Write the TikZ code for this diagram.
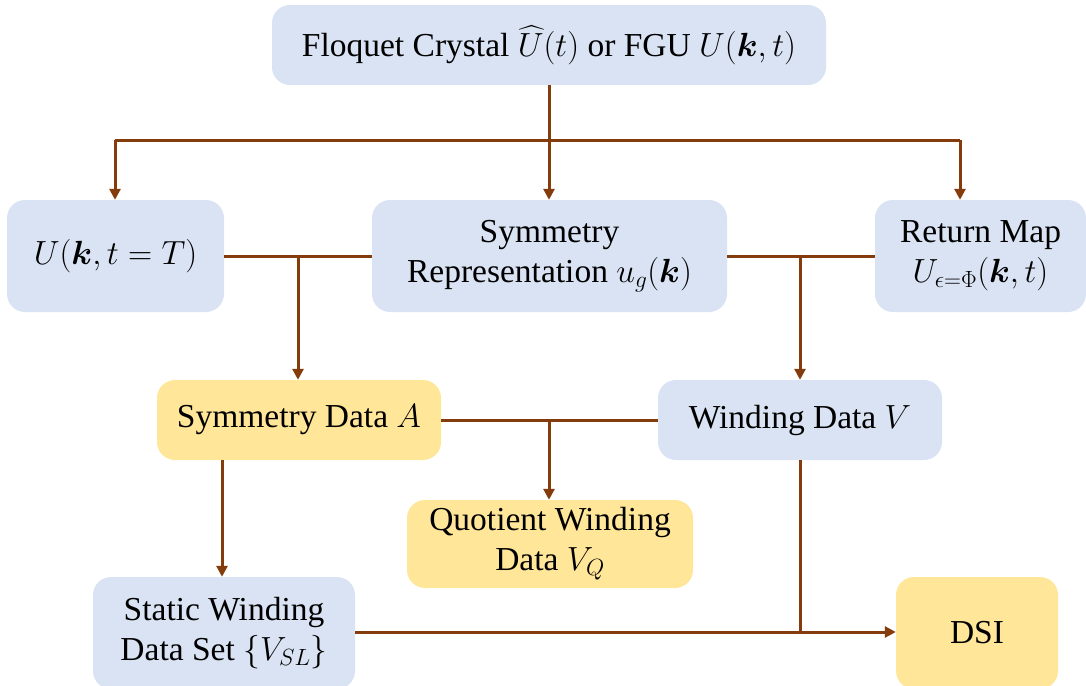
\documentclass[tikz,border=0pt]{standalone}
\usepackage{fix-cm}
\usepackage{amsmath,bm}
\usepackage{fontspec}
\setmainfont{Liberation Serif}
\newfontfamily\tnr{Liberation Serif}
\usetikzlibrary{arrows.meta}
\definecolor{boxblue}{HTML}{DAE3F3}
\definecolor{boxyellow}{HTML}{FFE699}
\definecolor{conncol}{HTML}{843C0C}
\tikzset{
  box/.style={rounded corners=18pt, inner sep=0pt, align=center,
    font=\tnr\fontsize{33.5}{40}\selectfont},
  bluebox/.style={box, fill=boxblue},
  yellowbox/.style={box, fill=boxyellow},
  link/.style={draw=conncol, line width=3pt},
  arr/.style={link, -{Triangle[length=11pt,width=11pt]}}
}
\begin{document}
\begin{tikzpicture}[x=1pt,y=-1pt]
\useasboundingbox (0,0) rectangle (1086,685);
\node[bluebox, minimum width=554pt, minimum height=80pt] (top) at (549,45)
  {Floquet Crystal $\widehat{U}(t)$ or FGU $U(\bm{k},t)$};
\node[bluebox, minimum width=217pt, minimum height=112pt] (ukt) at (115.5,256)
  {$U(\bm{k},t=T)$};
\node[bluebox, minimum width=355pt, minimum height=112pt] (symrep) at (549.5,256)
  {Symmetry\\Representation $u_g(\bm{k})$};
\node[bluebox, minimum width=211pt, minimum height=112pt] (ret) at (980.5,256)
  {Return Map\\$U_{\epsilon=\Phi}(\bm{k},t)$};
\node[yellowbox, minimum width=284pt, minimum height=80pt] (symA) at (299,420)
  {Symmetry Data $A$};
\node[bluebox, minimum width=284pt, minimum height=80pt] (windV) at (800,420)
  {Winding Data $V$};
\node[yellowbox, minimum width=286pt, minimum height=88pt] (quot) at (550,544)
  {Quotient Winding\\Data $V_Q$};
\node[bluebox, minimum width=262pt, minimum height=112pt] (stat) at (224,633)
  {Static Winding\\Data Set $\{V_{SL}\}$};
\node[yellowbox, minimum width=162pt, minimum height=112pt] (dsi) at (977,633)
  {DSI};
% top distribution
\coordinate (jm) at (549,140);
\coordinate (jl) at (115,140);
\coordinate (jr) at (960,140);
\draw[arr] (top.south -| jm) -- (symrep.north -| jm);
\draw[link] (jl) -- (jr);
\draw[arr] (jl) -- (ukt.north -| jl);
\draw[arr] (jr) -- (ret.north -| jr);
% second row
\coordinate (ja) at (298,256);
\coordinate (jv) at (800,256);
\draw[link] (ukt.east) -- (symrep.west);
\draw[link] (symrep.east) -- (ret.west);
\draw[arr] (ja) -- (symA.north -| ja);
\draw[arr] (jv) -- (windV.north -| jv);
% third row
\coordinate (jq) at (549,420);
\draw[link] (symA.east) -- (windV.west);
\draw[arr] (jq) -- (quot.north -| jq);
\coordinate (js) at (222,460);
\draw[arr] (symA.south -| js) -- (stat.north -| js);
% bottom
\coordinate (jd) at (800,632);
\draw[arr] (stat.east |- jd) -- (dsi.west |- jd);
\draw[link] (windV.south -| jd) -- (jd);
\end{tikzpicture}
\end{document}
